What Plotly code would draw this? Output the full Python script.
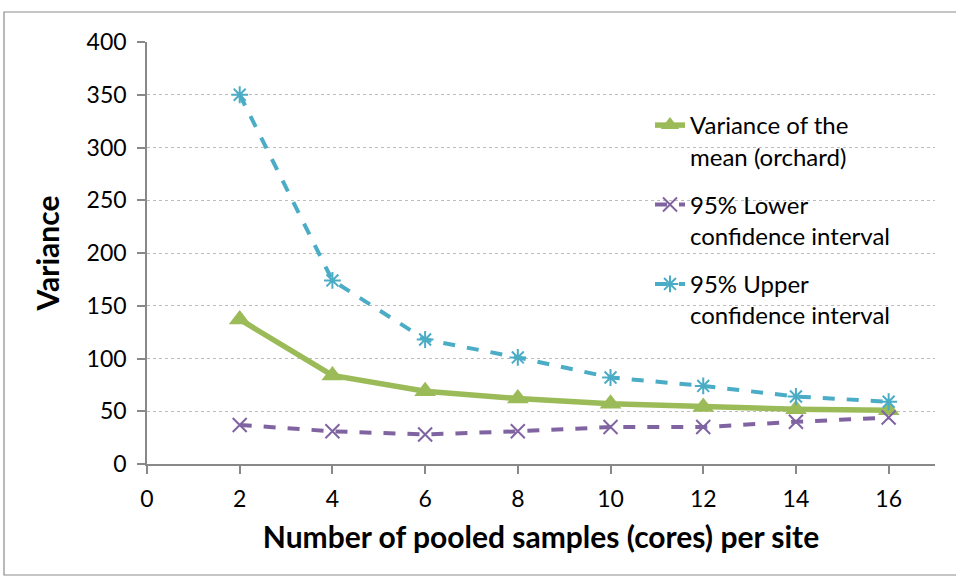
import plotly.graph_objects as go

x_vals = [2, 4, 6, 8, 10, 12, 14, 16]
variance_mean = [137, 84, 69, 62, 57, 54, 52, 51]
lower_ci = [37, 31, 28, 31, 35, 35, 40, 44]
upper_ci = [350, 174, 118, 101, 82, 74, 64, 59]
names = ["Variance of the<br>mean (orchard)", "95% Lower<br>confidence interval", "95% Upper<br>confidence interval"]
x_ticks = [0, 2, 4, 6, 8, 10, 12, 14, 16]
y_ticks = [0, 50, 100, 150, 200, 250, 300, 350, 400]

FONT = "Lato, Open Sans, sans-serif"

fig = go.Figure()
fig.add_trace(go.Scatter(
    x=x_vals, y=variance_mean, name=names[0], mode="lines+markers",
    line=dict(color="#9BBB59", width=5.5),
    marker=dict(symbol="triangle-up", size=19, color="#9BBB59"),
    legendgroup="a"))
fig.add_trace(go.Scatter(
    x=x_vals, y=lower_ci, name=names[1], mode="lines+markers",
    line=dict(color="#8064A2", width=4, dash="dash"),
    marker=dict(symbol="x-thin-open", size=14, color="#8064A2", line=dict(width=2, color="#8064A2")),
    legendgroup="b"))
fig.add_trace(go.Scatter(
    x=x_vals, y=upper_ci, name=names[2], mode="lines+markers",
    line=dict(color="#4BACC6", width=4, dash="dash"),
    marker=dict(symbol="asterisk-open", size=14, color="#4BACC6", line=dict(width=2, color="#4BACC6")),
    legendgroup="c"))

L, R, T, B = 147, 21, 42, 114
W, H = 956, 578
pw, ph = W - L - R, H - T - B

fig.update_layout(
    width=W, height=H,
    margin=dict(l=L, r=R, t=T, b=B),
    paper_bgcolor="white", plot_bgcolor="white",
    font=dict(family=FONT, size=23, color="black"),
    showlegend=True,
    legend=dict(x=(650 - L) / pw, y=1 - (103 - T) / ph,
                xanchor="left", yanchor="top", bgcolor="rgba(0,0,0,0)",
                traceorder="grouped", tracegroupgap=14, valign="top",
                font=dict(family=FONT, size=24, color="black")),
    xaxis=dict(range=[0, 17], tickvals=x_ticks, showgrid=False,
               showline=True, linecolor="#888888", linewidth=1.5,
               ticks="outside", ticklen=8, tickcolor="#888888", tickwidth=1.5,
               ticklabelstandoff=6, zeroline=False,
               tickfont=dict(family=FONT, size=23),
               title=dict(text="<b>Number of pooled samples (cores) per site</b>",
                          font=dict(family=FONT, size=30), standoff=16)),
    yaxis=dict(range=[0, 400], tickvals=y_ticks, showgrid=True,
               gridcolor="#BDBDBD", griddash="dot", gridwidth=1,
               showline=True, linecolor="#888888", linewidth=1.5,
               ticks="outside", ticklen=8, tickcolor="#888888", tickwidth=1.5,
               ticklabelstandoff=6, zeroline=False,
               tickfont=dict(family=FONT, size=23),
               title=dict(text="<b>Variance</b>", font=dict(family=FONT, size=30), standoff=18)),
    shapes=[dict(type="rect", xref="paper", yref="paper",
                 x0=(4 - L) / pw, x1=(962 - L) / pw,
                 y0=1 - (575 - T) / ph, y1=1 - (12 - T) / ph,
                 line=dict(color="#8C8C8C", width=1.2), fillcolor="rgba(0,0,0,0)", layer="below")],
)

fig.write_html("out.html")
